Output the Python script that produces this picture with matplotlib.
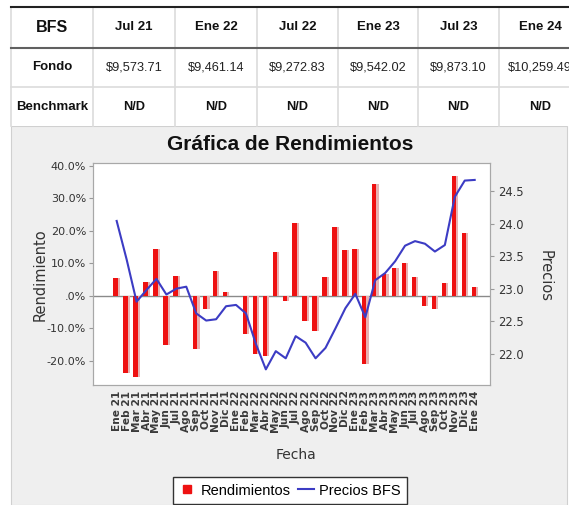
import numpy as np
import matplotlib
matplotlib.use("Agg")
import matplotlib.pyplot as plt
from matplotlib.lines import Line2D
from matplotlib.patches import Rectangle

# tabla
tabla_encabezado = ["BFS", "Jul 21", "Ene 22", "Jul 22", "Ene 23", "Jul 23", "Ene 24"]
tabla_fondo = ["$9,573.71", "$9,461.14", "$9,272.83", "$9,542.02", "$9,873.10", "$10,259.49"]
tabla_benchmark = ["N/D", "N/D", "N/D", "N/D", "N/D", "N/D"]

# grafica
meses = ["Ene", "Feb", "Mar", "Abr", "May", "Jun", "Jul", "Ago", "Sep", "Oct", "Nov", "Dic"]
fechas = [f"{m} {a}" for a in ("21", "22", "23") for m in meses] + ["Ene 24"]

rendimientos = [5.3, -23.7, -24.9, 4.1, 14.5, -15.2, 6.2, 0.0, -16.5, -4.1, 7.7, 1.2,
                0.0, -11.8, -17.9, -18.6, 13.5, -1.5, 22.5, -7.8, -10.8, 5.8, 21.1, 14.1,
                14.5, -21.0, 34.4, 6.6, 8.4, 10.2, 5.8, -3.1, -4.1, 4.0, 36.8, 19.4, 2.7]

precios = [24.04, 23.45, 22.80, 22.98, 23.15, 22.91, 23.00, 23.03, 22.62, 22.51, 22.53, 22.73,
           22.75, 22.62, 22.15, 21.76, 22.04, 21.93, 22.27, 22.17, 21.93, 22.09, 22.39, 22.70,
           22.92, 22.56, 23.13, 23.24, 23.42, 23.66, 23.73, 23.69, 23.57, 23.67, 24.41, 24.66, 24.67]

W, H = 569, 505
fig = plt.figure(figsize=(W / 100, H / 100), dpi=100)
fig.patch.set_facecolor("white")

# fondo gris del panel
fig.add_artist(Rectangle((11 / W, 0), (567 - 11) / W, 1 - 126 / H,
                         transform=fig.transFigure, facecolor="#efefef",
                         edgecolor="#d0d0d0", lw=0.8, zorder=0))

# ---- tabla arriba ----
tab = fig.add_axes([0, 1 - 130 / H, 1, 130 / H])
tab.set_xlim(0, W)
tab.set_ylim(130, 0)
tab.axis("off")

bordes = [11, 93, 175, 257, 338, 418, 499, 581]
centros = [(bordes[i] + bordes[i + 1]) / 2 for i in range(len(bordes) - 1)]
tab.add_patch(Rectangle((11, 7), W - 11, 119, facecolor="white", edgecolor="none"))
for xb in bordes[:-1]:
    tab.plot([xb, xb], [7, 126], color="#dcdcdc", lw=1.2)
tab.plot([11, W], [87, 87], color="#dcdcdc", lw=1.2)
tab.plot([11, W], [48, 48], color="#606060", lw=1.5)
tab.plot([11, W], [7, 7], color="#222222", lw=1.5)

fnt = "Liberation Sans"
for i, t in enumerate(tabla_encabezado):
    tab.text(centros[i], 27, t, ha="center", va="center", family=fnt,
             fontsize=11.5 if i == 0 else 9.5, weight="bold", color="#111111")
tab.text(centros[0], 67, "Fondo", ha="center", va="center", family=fnt,
         fontsize=9.5, weight="bold", color="#111111")
tab.text(centros[0], 107, "Benchmark", ha="center", va="center", family=fnt,
         fontsize=9.5, weight="bold", color="#111111")
for i, t in enumerate(tabla_fondo):
    tab.text(centros[i + 1], 67, t, ha="center", va="center", family=fnt,
             fontsize=9.2, color="#222222")
for i, t in enumerate(tabla_benchmark):
    tab.text(centros[i + 1], 107, t, ha="center", va="center", family=fnt,
             fontsize=9.2, weight="bold", color="#111111")

# ---- grafica ----
ax = fig.add_axes([93 / W, 1 - 385 / H, (490 - 93) / W, (385 - 163) / H])
ax.set_facecolor("white")
x = np.arange(len(fechas))

ax.axhline(0, color="#8a8a8a", lw=1.0, zorder=1)
ax.bar(x - 0.32, rendimientos, width=0.66, align="edge", color="#e7b3b3", zorder=2)
ax.bar(x - 0.32, rendimientos, width=0.44, align="edge", color="#ee1111", zorder=3)

ax.set_xlim(-2.38, 37.54)
ax.set_ylim(-27.48, 40.83)
ax.set_yticks([-20, -10, 0, 10, 20, 30, 40])
ax.set_yticklabels(["-20.0%", "-10.0%", ".0%", "10.0%", "20.0%", "30.0%", "40.0%"],
                   family="DejaVu Sans", fontsize=8, color="#333333")
ax.set_xticks(x)
ax.set_xticklabels(fechas, rotation=90, family="DejaVu Sans", fontsize=7.6,
                   weight="bold", color="#3a3a3a")
ax.tick_params(axis="x", length=0, pad=4)
ax.tick_params(axis="y", length=3, color="#999999", pad=2)
for s in ax.spines.values():
    s.set_color("#a8a8a8")

ax2 = ax.twinx()
ax2.plot(x, precios, color="#3c3cc4", lw=1.5)
ax2.set_ylim(21.52, 24.93)
ax2.set_yticks([22.0, 22.5, 23.0, 23.5, 24.0, 24.5])
ax2.set_yticklabels(["22.0", "22.5", "23.0", "23.5", "24.0", "24.5"],
                    family="DejaVu Sans", fontsize=8.3, color="#333333")
ax2.tick_params(axis="y", length=3, color="#999999", pad=3)
for s in ax2.spines.values():
    s.set_color("#a8a8a8")

fig.text(290 / W, 1 - 145 / H, "Gráfica de Rendimientos", ha="center", va="center",
         family=fnt, fontsize=15, weight="bold", color="#111111")
fig.text(40 / W, 1 - 275 / H, "Rendimiento", rotation=90, ha="center", va="center",
         family="DejaVu Sans", fontsize=10.5, color="#333333")
fig.text(545 / W, 1 - 276 / H, "Precios", rotation=270, ha="center", va="center",
         family="DejaVu Sans", fontsize=10.5, color="#333333")
fig.text(296 / W, 1 - 455 / H, "Fecha", ha="center", va="center",
         family="DejaVu Sans", fontsize=10, color="#333333")

handles = [Line2D([], [], marker="s", ls="none", color="#ee1111", markersize=6),
           Line2D([], [], color="#3c3cc4", lw=1.5)]
fig.legend(handles, ["Rendimientos", "Precios BFS"], loc="upper center",
           bbox_to_anchor=(290 / W, 1 - 477 / H), ncol=2, frameon=True,
           fancybox=False, edgecolor="#333333", facecolor="white", framealpha=1,
           prop={"family": fnt, "size": 10.5}, handlelength=1.1, handletextpad=0.35,
           columnspacing=0.5, borderpad=0.45, borderaxespad=0)

fig.savefig("out.png", dpi=100)
